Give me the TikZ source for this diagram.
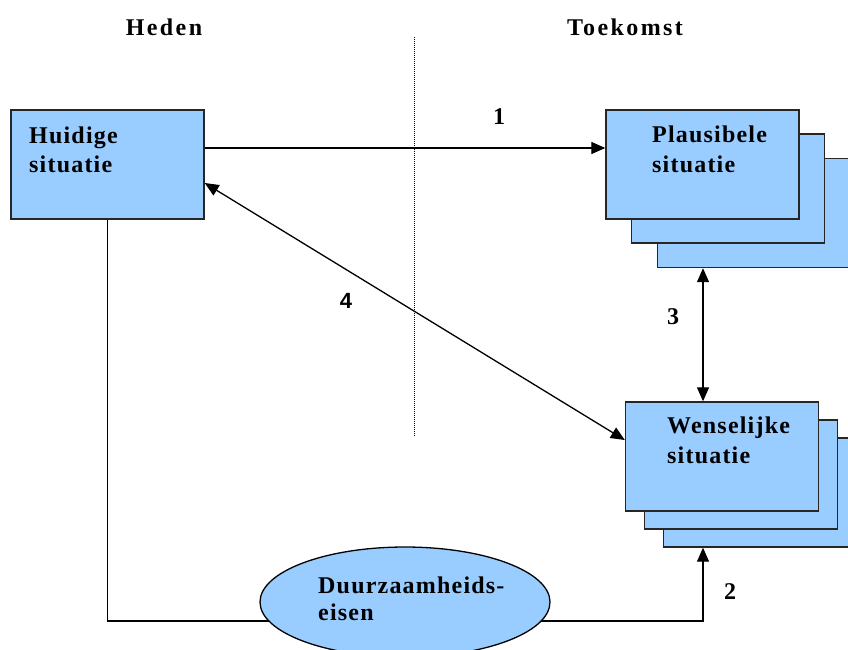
\documentclass[tikz,border=0pt]{standalone}
\usepackage{fontspec}
\setmainfont{Liberation Serif}[LetterSpace=5]
\newfontfamily\koptekst{Liberation Serif}[LetterSpace=10]
\newfontfamily\schreefloos{Liberation Sans}
\usepackage{tikz}
\usetikzlibrary{shapes.geometric,arrows.meta}

\definecolor{lichtblauw}{HTML}{99CCFF}

\begin{document}
\begin{tikzpicture}[x=1pt,y=-1pt,
	font=\fontsize{24}{29.5}\selectfont\bfseries,
	pijl/.style={line width=1.3pt,-{Triangle[length=14pt,width=12pt]}},
	dubbelpijl/.style={line width=1.3pt,{Triangle[length=14pt,width=12pt]}-{Triangle[length=14pt,width=12pt]}}]

\useasboundingbox (0,0) rectangle (848,649);

\begin{scope}[every node/.style={rectangle,draw=black!85,line width=1.4pt,fill=lichtblauw,minimum width=193pt,minimum height=109pt,inner sep=0pt}]
	%Heden
	\node (huidig) at (107.5, 164.5) {};
	
	%Toekomst, plausibel
	\node (plaus3) at (754, 213) {};
	\node (plaus2) at (728, 188.5) {};
	\node (plaus1) at (702.5, 164.5) {};
	
	%Toekomst, wenselijk
	\node (wens3) at (760, 492.5) {};
	\node (wens2) at (741, 474.5) {};
	\node (wens1) at (722, 456.5) {};
\end{scope}

\begin{scope}[every node/.style={anchor=base west,inner sep=0pt,align=left}]
	\node (t_huidig) at (29, 172.5) {Huidige\\situatie};
	\node (t_plaus) at (652, 172) {Plausibele\\situatie};
	\node (t_wens) at (667, 463) {Wenselijke\\situatie};
\end{scope}

\begin{scope}[every node/.style={inner sep=0pt}]
	\node[font=\fontsize{24}{29}\selectfont\bfseries\koptekst] (heden) at (164, 27) {Heden};
	\node[font=\fontsize{24}{29}\selectfont\bfseries\koptekst] (toekomst) at (625, 27) {Toekomst};
	
	\node (n1) at (499, 117) {1};
	\node (n2) at (730, 592) {2};
	\node (n3) at (673, 317) {3};
	\node[font=\fontsize{22}{26}\selectfont\bfseries\schreefloos] (n4) at (346, 301) {4};
\end{scope}

\coordinate (grens_boven) at (414, 37);
\coordinate (grens_onder) at (414, 437);
\coordinate (hoek) at (703, 621);

\draw[line width=0.8pt,dash pattern=on 1pt off 1pt] (grens_boven) -- (grens_onder);

\begin{scope}
	\draw[pijl] ([yshift=16.5pt]huidig.east) -- ([yshift=16.5pt]plaus1.west);
	\draw[dubbelpijl] ([yshift=-18.5pt]huidig.east) -- ([yshift=16.5pt]wens1.west);
	\draw[dubbelpijl] (plaus3.south -| hoek) -- (wens1.north -| hoek);
	\draw[pijl] (huidig.south) |- (hoek) -- (wens3.south -| hoek);
\end{scope}

\node[ellipse,draw=black,line width=1.3pt,fill=lichtblauw,minimum width=290pt,minimum height=110pt,inner sep=0pt] (eisen) at (405, 602) {};
\node[anchor=base west,inner sep=0pt,align=left,font=\fontsize{24}{27}\selectfont\bfseries] (t_eisen) at (318, 620) {Duurzaamheids-\\eisen};

\end{tikzpicture}
\end{document}
